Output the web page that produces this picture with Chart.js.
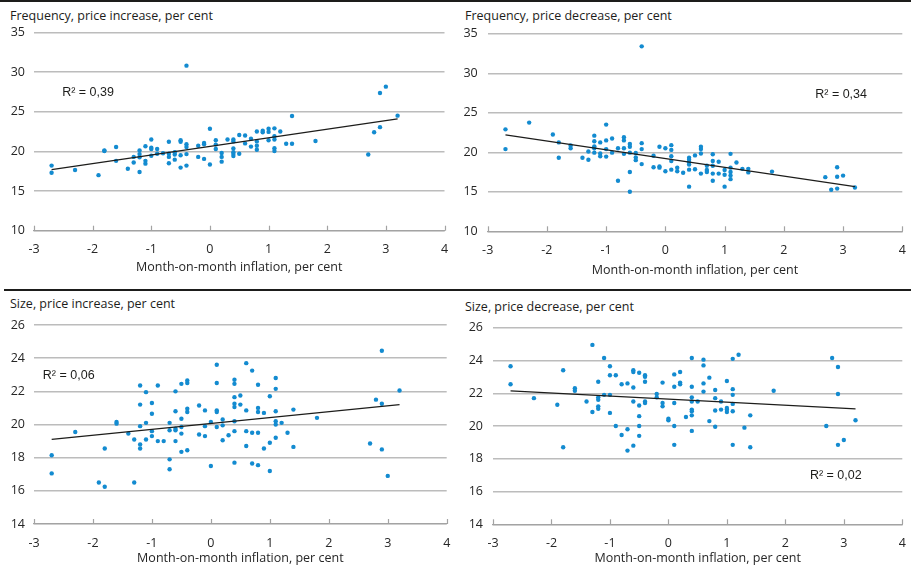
<!DOCTYPE html>
<html>
<head>
<meta charset="utf-8">
<script src="https://cdn.jsdelivr.net/npm/chart.js@4.4.1/dist/chart.umd.min.js"></script>
<style>
  html, body { margin: 0; padding: 0; background: #fff; }
  body { position: relative; width: 911px; height: 572px; overflow: hidden; font-family: "Open Sans", sans-serif; }
  .rule { position: absolute; background: #1d1d1b; }
  .title { position: absolute; font-size: 12.5px; line-height: 16px; color: #1d1d1b; white-space: nowrap; }
  canvas { position: absolute; }
</style>
</head>
<body>
<div class="rule" style="left:0;top:0;width:911px;height:2px"></div>
<div class="rule" style="left:4px;top:289px;width:907px;height:2px"></div>

<div class="title" style="left:10px;top:8px">Frequency, price increase, per cent</div>
<div class="title" style="left:465px;top:8px">Frequency, price decrease, per cent</div>
<div class="title" style="left:10px;top:296px">Size, price increase, per cent</div>
<div class="title" style="left:465px;top:299px">Size, price decrease, per cent</div>

<canvas id="freqUp" width="455" height="289" style="left:0;top:0"></canvas>
<canvas id="freqDown" width="456" height="289" style="left:455px;top:0"></canvas>
<canvas id="sizeUp" width="455" height="280" style="left:0;top:292px"></canvas>
<canvas id="sizeDown" width="456" height="280" style="left:455px;top:292px"></canvas>

<script>
// Month-on-month inflation (per cent); each panel lists its observations grouped by these values
const inflation = [-2.7, -2.3, -1.9, -1.8, -1.6, -1.4, -1.3, -1.2, -1.1, -1.0, -0.9, -0.8, -0.7, -0.6, -0.5, -0.4,
  -0.2, -0.1, 0, 0.1, 0.2, 0.3, 0.4, 0.5, 0.6, 0.7, 0.8, 0.9, 1.0, 1.1, 1.2, 1.3, 1.4, 1.8, 2.7, 2.8, 2.9, 3.0, 3.2];

// Frequency of price increases, per cent
const freqIncrease = [
  [18.2, 17.3], [17.65], [17.0], [20.1, 20.05], [20.55, 18.8], [17.8], [19.3, 18.6],
  [20.1, 19.65, 19.25, 17.4], [20.65, 18.8, 18.45], [21.5, 20.45, 20.3, 19.45], [20.3, 19.7], [19.75],
  [21.2, 19.7, 19.3, 18.5], [19.9, 19.6, 18.95], [21.4, 21.2, 19.5, 17.95], [30.8, 20.9, 20.55, 19.65, 18.2],
  [20.7, 19.3], [21.05, 20.9, 19.05], [22.85, 18.35], [21.4, 20.85, 20.3], [19.8, 19.3, 18.7], [21.5],
  [21.5, 21.25, 20.35, 19.9, 19.65, 19.4], [22.05, 19.7], [22.0, 21.0], [21.6, 20.6], [22.5, 21.25, 20.7, 20.2],
  [22.6, 22.4], [22.85, 22.45, 21.4], [22.9, 21.9, 21.5, 20.4, 20.05], [22.5], [20.95], [24.45, 20.95],
  [21.3], [19.6], [22.4], [27.35, 23.05], [28.15], [24.5]
];

// Frequency of price decreases, per cent
const freqDecrease = [
  [22.9, 20.4], [23.75], [22.25], [21.25, 19.3], [20.85, 20.5], [19.3], [20.1, 19.05],
  [22.1, 21.4, 20.75, 20.5, 19.95], [21.25, 19.85, 19.5], [23.5, 21.5, 20.4, 19.45], [21.75, 19.95], [20.5, 16.4],
  [21.9, 21.5, 20.5, 19.8], [21.05, 20.7, 19.95, 17.5, 15.0], [19.9, 19.35, 19.0], [33.4, 21.15, 20.4, 18.5],
  [19.55, 18.1], [20.7, 18.2, 18.05], [20.5, 17.6], [20.9, 20.3, 19.5, 18.9, 17.8], [18.05, 17.6], [17.4],
  [19.3, 19.05, 18.75, 18.45, 17.8, 15.65], [19.6, 17.85], [20.7, 20.4, 19.85, 17.3], [18.3, 17.75, 17.5],
  [19.75, 18.9, 18.3, 17.3, 16.4], [18.8, 17.3], [17.75, 17.15, 15.65], [19.8, 18.05, 17.5, 17.05, 16.6],
  [18.7], [17.9], [17.9, 17.45], [17.55], [16.85], [15.25], [18.1, 16.9, 15.4], [17.05], [15.55]
];

// Size of price increases, per cent
const sizeIncrease = [
  [18.15, 17.05], [19.55], [16.5], [18.55, 16.25], [20.15, 20.05], [19.45], [19.1, 16.5],
  [22.35, 21.2, 19.9, 18.8, 18.55], [21.95, 20.1, 19.1], [21.3, 20.65, 19.6, 19.3], [22.35, 19.0], [19.0],
  [20.1, 19.65, 17.9, 17.3], [22.0, 20.8, 19.75, 19.65, 19.0], [22.45, 20.35, 19.85, 19.45, 18.35],
  [22.65, 22.5, 20.95, 20.75, 18.45], [21.15, 19.4], [20.85, 19.9, 19.3], [20.15, 17.5],
  [23.6, 22.5, 20.85, 20.75, 19.85], [20.3, 19.95, 19.05], [19.35],
  [22.7, 22.45, 21.65, 21.25, 21.05, 20.2, 19.6, 17.7], [21.75, 21.2], [23.7, 20.85, 19.6, 18.7],
  [23.25, 19.5, 17.65], [22.4, 21.0, 20.75, 19.5, 17.55], [20.7, 18.55], [21.7, 18.9, 17.2],
  [22.8, 22.15, 20.8, 20.2, 20.0, 19.2], [20.1], [19.5], [20.9, 18.65], [20.4], [18.85], [21.5],
  [24.45, 21.25, 18.5], [16.9], [22.05]
];

// Size of price decreases, per cent
const sizeDecrease = [
  [23.65, 22.55], [21.7], [21.3], [23.4, 18.7], [22.3, 22.15], [21.5], [24.95, 20.85],
  [22.7, 21.75, 21.6, 21.2, 21.05], [24.15, 21.9], [23.65, 23.1, 21.9, 20.8], [23.1, 20.0], [22.55, 19.45],
  [22.6, 19.8, 18.5], [23.4, 23.3, 22.35, 21.5, 18.8], [23.25, 21.25, 20.6, 20.0, 19.4],
  [23.1, 23.0, 22.7, 21.5, 21.4], [21.95, 21.75], [22.65, 21.4, 21.2], [20.45, 20.35],
  [23.15, 22.4, 21.4, 20.0, 18.85], [23.3, 22.65, 22.55], [20.55],
  [24.15, 22.4, 21.75, 21.5, 21.0, 20.9, 20.65, 19.7], [21.5], [24.05, 23.7, 22.6, 22.1], [22.95, 20.3],
  [22.2, 21.7, 20.95, 19.95], [21.5, 21.0], [22.75, 21.1, 21.0, 20.85], [24.1, 22.25, 21.9, 21.35, 20.9, 18.85],
  [24.35], [19.9], [20.65, 18.7], [22.15], [20.0], [24.15], [23.6, 21.95, 18.85], [19.15], [20.35]
];

// Linear trend lines: value at the first and last inflation observation
const trendX = [-2.7, 3.2];
const freqIncreaseTrend = [17.7, 24.1];
const freqDecreaseTrend = [22.2, 15.65];
const sizeIncreaseTrend = [19.1, 21.2];
const sizeDecreaseTrend = [22.15, 21.05];

// Explained variance labels
const r2Labels = ['R² = 0,39', 'R² = 0,34', 'R² = 0,06', 'R² = 0,02'];

const xTitle = 'Month-on-month inflation, per cent';
const BLUE = '#138bd0';
const TEXT = '#262626';

Chart.defaults.font.family = "'Open Sans', sans-serif";
Chart.defaults.font.size = 12.5;
Chart.defaults.color = TEXT;

function toPoints(groups) {
  const pts = [];
  groups.forEach((vals, i) => vals.forEach(v => pts.push({ x: inflation[i], y: v })));
  return pts;
}

// Small tick marks rising from the x axis into the plot, plus the R² annotation
const panelDecor = {
  id: 'panelDecor',
  afterDraw(chart, args, opts) {
    const { ctx, chartArea } = chart;
    const xs = chart.scales.x, ys = chart.scales.y;
    ctx.save();
    ctx.strokeStyle = '#a3a3a3';
    ctx.lineWidth = 1.2;
    xs.ticks.forEach(t => {
      const px = Math.round(xs.getPixelForValue(t.value)) + 0.5;
      ctx.beginPath();
      ctx.moveTo(px, chartArea.bottom);
      ctx.lineTo(px, chartArea.bottom - 5);
      ctx.stroke();
    });
    ctx.fillStyle = '#1d1d1b';
    ctx.font = "12.5px 'Liberation Sans', Arial, sans-serif";
    ctx.textAlign = 'left';
    ctx.textBaseline = 'middle';
    ctx.fillText(opts.text, xs.getPixelForValue(opts.x), ys.getPixelForValue(opts.y));
    ctx.restore();
  }
};

function buildPanel(id, groups, trend, yRange, layout, label) {
  new Chart(document.getElementById(id), {
    type: 'scatter',
    data: {
      datasets: [
        {
          type: 'line',
          data: trendX.map((x, i) => ({ x, y: trend[i] })),
          borderColor: '#1d1d1b',
          borderWidth: 1.2,
          pointRadius: 0,
          fill: false,
          order: 0
        },
        {
          data: toPoints(groups),
          backgroundColor: BLUE,
          borderWidth: 0,
          pointStyle: 'circle',
          pointRadius: 2.2,
          order: 1
        }
      ]
    },
    plugins: [panelDecor],
    options: {
      responsive: false,
      devicePixelRatio: 1,
      animation: false,
      events: [],
      layout: { padding: { left: 0, right: layout.right, top: layout.top, bottom: 0 } },
      plugins: {
        legend: { display: false },
        tooltip: { enabled: false },
        panelDecor: label
      },
      scales: {
        x: {
          type: 'linear',
          min: -3, max: 4,
          afterFit: s => { s.height = layout.xH; s.paddingLeft = 0; s.paddingRight = 0; },
          ticks: { stepSize: 1, padding: 11.5, color: TEXT, font: { size: 12.5 } },
          grid: { display: false, drawTicks: false },
          border: { display: true, color: '#a3a3a3', width: 1.2 },
          title: { display: true, text: xTitle, color: TEXT, font: { size: 12.5 }, padding: { top: 0, bottom: layout.titleBottom } }
        },
        y: {
          min: yRange[0], max: yRange[1],
          afterFit: s => { s.width = layout.yW; s.paddingTop = 0; s.paddingBottom = 0; },
          ticks: { stepSize: yRange[2], padding: layout.yPad, color: TEXT, font: { size: 12.5 } },
          grid: { color: '#bcbcbc', lineWidth: 1.4, drawTicks: false },
          border: { display: false }
        }
      }
    }
  });
}

buildPanel('freqUp', freqIncrease, freqIncreaseTrend, [10, 35, 5],
  { right: 10.5, top: 32.3, xH: 58.3, yW: 34, yPad: 9, titleBottom: 14.5 },
  { text: r2Labels[0], x: -2.52, y: 27.4 });

buildPanel('freqDown', freqDecrease, freqDecreaseTrend, [10, 35, 5],
  { right: 8.7, top: 33.7, xH: 57.7, yW: 32.7, yPad: 10, titleBottom: 11.5 },
  { text: r2Labels[1], x: 2.53, y: 27.35 });

buildPanel('sizeUp', sizeIncrease, sizeIncreaseTrend, [14, 26, 2],
  { right: 8.3, top: 33, xH: 48, yW: 34, yPad: 9, titleBottom: 6.2 },
  { text: r2Labels[2], x: -2.85, y: 22.98 });

buildPanel('sizeDown', sizeDecrease, sizeDecreaseTrend, [14, 26, 2],
  { right: 8.7, top: 35.7, xH: 47.7, yW: 38, yPad: 10, titleBottom: 6 },
  { text: r2Labels[3], x: 2.42, y: 16.95 });
</script>
</body>
</html>
